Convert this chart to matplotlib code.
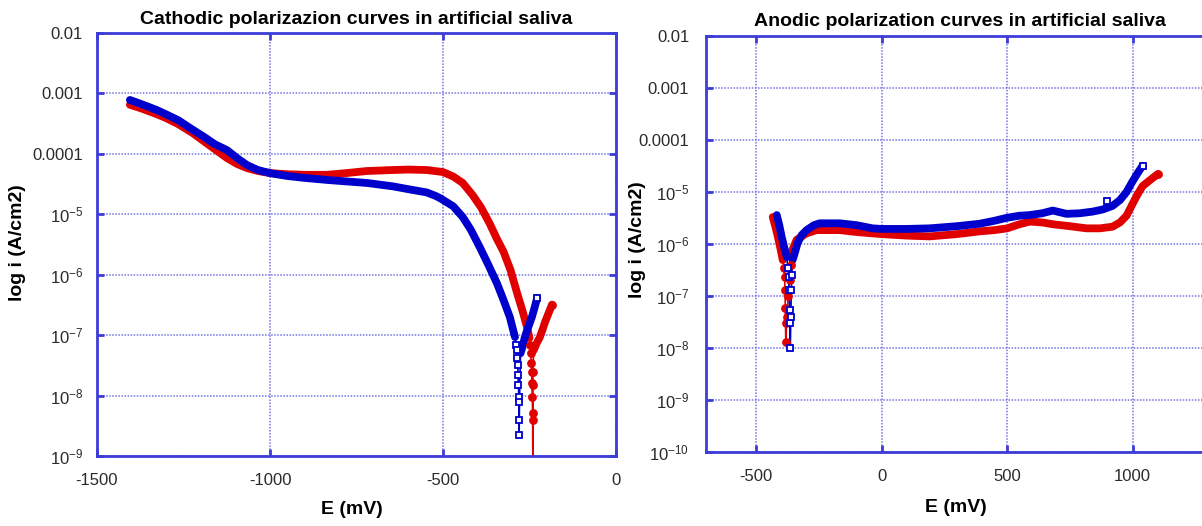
import numpy as np
import matplotlib
matplotlib.use("Agg")
import matplotlib.pyplot as plt
from matplotlib.ticker import FixedLocator, FixedFormatter

plt.rcParams["font.family"] = ["Liberation Sans", "DejaVu Sans"]
plt.rcParams["mathtext.fontset"] = "custom"
plt.rcParams["mathtext.rm"] = "Liberation Sans"
plt.rcParams["mathtext.it"] = "Liberation Sans"

# ---------------- Cathodic scan (mV, A/cm2) ----------------
cat_blue_band_E = [-1405, -1370, -1330, -1300, -1265, -1223, -1190, -1160, -1124, -1095,
                   -1066, -1035, -1000, -950, -900, -835, -780, -720, -645, -600,
                   -547, -520, -505, -470, -443, -420, -393, -370, -344, -325, -307, -292]
cat_blue_band_i = [7.8e-4, 6.6e-4, 5.4e-4, 4.5e-4, 3.6e-4, 2.5e-4, 1.9e-4, 1.45e-4, 1.15e-4, 8.5e-5,
                   6.5e-5, 5.4e-5, 4.8e-5, 4.3e-5, 4.0e-5, 3.7e-5, 3.5e-5, 3.3e-5, 2.9e-5, 2.6e-5,
                   2.3e-5, 2.0e-5, 1.8e-5, 1.35e-5, 9e-6, 5.6e-6, 2.8e-6, 1.5e-6, 7.2e-7, 3.8e-7, 2.0e-7, 9.3e-8]
cat_blue_tail_E = [-289, -287, -285, -284, -283, -282, -281, -280, -280, -279]
cat_blue_tail_i = [7e-8, 5.6e-8, 4.2e-8, 3.2e-8, 2.2e-8, 1.5e-8, 9.3e-9, 3.9e-9, 2.2e-9, 7.7e-9]
cat_blue_rise_E = [-276, -270, -264, -257, -250, -243, -235, -228]
cat_blue_rise_i = [5e-8, 6.5e-8, 9e-8, 1.2e-7, 1.55e-7, 2e-7, 2.9e-7, 4.1e-7]

cat_red_band_E = [-1405, -1370, -1330, -1300, -1265, -1223, -1190, -1160, -1124, -1095,
                  -1066, -1035, -1000, -950, -900, -835, -780, -720, -645, -600,
                  -547, -500, -470, -443, -415, -390, -365, -345, -325, -305, -286, -270, -257, -250]
cat_red_band_i = [6.5e-4, 5.6e-4, 4.6e-4, 3.9e-4, 3.1e-4, 2.2e-4, 1.6e-4, 1.2e-4, 8.5e-5, 6.8e-5,
                  5.8e-5, 5.2e-5, 4.8e-5, 4.6e-5, 4.5e-5, 4.5e-5, 4.8e-5, 5.2e-5, 5.4e-5, 5.5e-5,
                  5.4e-5, 5.0e-5, 4.2e-5, 3.3e-5, 2.1e-5, 1.3e-5, 7e-6, 4e-6, 2.4e-6, 1.2e-6, 5e-7, 2.5e-7, 1.35e-7, 9e-8]
cat_red_tail_E = [-248, -246, -245, -244, -243, -242, -241, -241, -240, -240, -240]
cat_red_tail_i = [7e-8, 5e-8, 3.5e-8, 2.5e-8, 1.6e-8, 9.3e-9, 5.2e-9, 3.9e-9, 4e-10, 1.5e-8, 2.5e-8]
cat_red_rise_E = [-238, -230, -220, -212, -205, -195, -185]
cat_red_rise_i = [5.6e-8, 7.2e-8, 9.3e-8, 1.25e-7, 1.65e-7, 2.3e-7, 3.2e-7]

# ---------------- Anodic scan (mV, A/cm2) ----------------
an_blue_band_E = [-418, -408, -398, -388, -378]
an_blue_band_i = [3.6e-6, 2.3e-6, 1.35e-6, 8.5e-7, 5.6e-7]
an_blue_tail_E = [-374, -371, -369, -367, -366, -364, -362, -360, -358]
an_blue_tail_i = [3.5e-7, 2.3e-7, 1.3e-7, 5.4e-8, 3e-8, 1e-8, 4e-8, 1.3e-7, 2.5e-7]
an_blue_rise_E = [-355, -345, -335, -318, -299, -270, -247, -200, -167, -100, -36, 0, 100, 191,
                  300, 390, 450, 500, 550, 590, 640, 682, 737, 790, 841, 880, 920, 950, 976,
                  1000, 1020, 1040]
an_blue_rise_i = [4.9e-7, 7e-7, 1.05e-6, 1.5e-6, 1.85e-6, 2.3e-6, 2.5e-6, 2.5e-6, 2.5e-6, 2.3e-6,
                  2.0e-6, 1.95e-6, 1.95e-6, 2.0e-6, 2.2e-6, 2.45e-6, 2.8e-6, 3.2e-6, 3.5e-6, 3.6e-6,
                  3.9e-6, 4.4e-6, 3.8e-6, 3.9e-6, 4.2e-6, 4.6e-6, 5.4e-6, 7e-6, 1e-5,
                  1.6e-5, 2.3e-5, 3.2e-5]
an_blue_stray_E = [900]
an_blue_stray_i = [6.8e-6]

an_red_band_E = [-434, -424, -414, -404, -394]
an_red_band_i = [3.3e-6, 2.2e-6, 1.4e-6, 8.5e-7, 4.9e-7]
an_red_tail_E = [-390, -387, -385, -384, -383, -382, -378, -372, -367, -363]
an_red_tail_i = [3.5e-7, 2.3e-7, 1.3e-7, 5.9e-8, 3e-8, 1.3e-8, 4e-8, 1e-7, 2e-7, 4e-7]
an_red_rise_E = [-359, -339, -300, -259, -200, -167, -100, -36, 0, 100, 191, 300, 390, 450,
                 500, 550, 590, 640, 682, 750, 817, 870, 920, 950, 976, 1000, 1020, 1040, 1070, 1100]
an_red_rise_i = [7e-7, 1.2e-6, 1.6e-6, 1.85e-6, 1.85e-6, 1.85e-6, 1.7e-6, 1.6e-6, 1.55e-6, 1.45e-6,
                 1.4e-6, 1.55e-6, 1.75e-6, 1.85e-6, 2.0e-6, 2.4e-6, 2.7e-6, 2.6e-6, 2.4e-6, 2.2e-6,
                 2.0e-6, 2.0e-6, 2.15e-6, 2.6e-6, 3.5e-6, 5.9e-6, 9e-6, 1.3e-5, 1.7e-5, 2.2e-5]

cat_xticks = [-1500, -1000, -500, 0]
an_xticks = [-500, 0, 500, 1000]
cat_decades = [-2, -3, -4, -5, -6, -7, -8, -9]
an_decades = [-2, -3, -4, -5, -6, -7, -8, -9, -10]

RED = "#e00000"
BLUE = "#0000cc"
FRAME = "#3c3cd8"
GRID = "#7474e4"
TICKTXT = "#2a2a2a"


def ylabel_text(d):
    if d >= -4:
        return "0." + "0" * (-d - 1) + "1"
    return r"$10^{%d}$" % d


def draw_curve(ax, band, tail, rise, color, marker, face):
    E_all = list(band[0]) + list(tail[0]) + list(rise[0])
    i_all = list(band[1]) + list(tail[1]) + list(rise[1])
    ax.plot(E_all, i_all, color=color, lw=1.2, zorder=3)
    for E, i in (band, rise):
        ax.plot(E, i, color=color, lw=5.6, solid_capstyle="round",
                solid_joinstyle="round", zorder=3)
    ax.plot(tail[0], tail[1], ls="none", marker=marker, ms=5, mew=1.3,
            mec=color, mfc=face, zorder=4)
    ax.plot([rise[0][-1]], [rise[1][-1]], ls="none", marker=marker, ms=5, mew=1.3,
            mec=color, mfc=face, zorder=4)


def style_axes(ax, xlim, ylim, xticks, decades, xpad, ypad):
    ax.set_yscale("log")
    ax.set_xlim(*xlim)
    ax.set_ylim(*ylim)
    ax.xaxis.set_major_locator(FixedLocator(xticks))
    ax.xaxis.set_major_formatter(FixedFormatter([str(t) for t in xticks]))
    yt = [10.0 ** d for d in decades]
    ax.yaxis.set_major_locator(FixedLocator(yt))
    ax.yaxis.set_major_formatter(FixedFormatter([ylabel_text(d) for d in decades]))
    ax.yaxis.set_minor_locator(FixedLocator([]))
    ax.grid(True, which="major", color=GRID, ls=(0, (1, 1)), lw=1.1, zorder=1)
    for s in ax.spines.values():
        s.set_color(FRAME)
        s.set_linewidth(2)
        s.set_zorder(5)
    ax.tick_params(axis="both", which="major", direction="in", length=5, width=2,
                   color=FRAME, top=True, right=True, labelsize=12, labelcolor=TICKTXT)
    ax.tick_params(axis="x", pad=xpad)
    ax.tick_params(axis="y", pad=ypad)


fig = plt.figure(figsize=(12.02, 5.26), dpi=100)
W, H = 1202.0, 526.0

ax1 = fig.add_axes([97 / W, 1 - 456 / H, 519 / W, 423 / H])
draw_curve(ax1, (cat_red_band_E, cat_red_band_i), (cat_red_tail_E, cat_red_tail_i),
           (cat_red_rise_E, cat_red_rise_i), RED, "o", RED)
draw_curve(ax1, (cat_blue_band_E, cat_blue_band_i), (cat_blue_tail_E, cat_blue_tail_i),
           (cat_blue_rise_E, cat_blue_rise_i), BLUE, "s", "white")
style_axes(ax1, (-1500, 0), (1e-9, 1e-2), cat_xticks, cat_decades, 12, 10)

# the anodic frame runs on past the right edge of the canvas
ax2 = fig.add_axes([706 / W, 1 - 452 / H, 552 / W, 416 / H])
draw_curve(ax2, (an_red_band_E, an_red_band_i), (an_red_tail_E, an_red_tail_i),
           (an_red_rise_E, an_red_rise_i), RED, "o", RED)
draw_curve(ax2, (an_blue_band_E, an_blue_band_i), (an_blue_tail_E, an_blue_tail_i),
           (an_blue_rise_E, an_blue_rise_i), BLUE, "s", "white")
ax2.plot(an_blue_stray_E, an_blue_stray_i, ls="none", marker="s", ms=5, mew=1.3,
         mec=BLUE, mfc="white", zorder=4)
style_axes(ax2, (-700, 1500), (1e-10, 1e-2), an_xticks, an_decades, 12, 12)
ax2.xaxis.set_minor_locator(FixedLocator([1500]))
ax2.grid(True, which="minor", axis="x", color=GRID, ls=(0, (1, 1)), lw=1.1, zorder=1)

fig.text(356 / W, 1 - 19 / H, "Cathodic polarizazion curves in artificial saliva",
         ha="center", va="center", fontsize=14, fontweight="bold")
fig.text(960 / W, 1 - 21 / H, "Anodic polarization curves in artificial saliva",
         ha="center", va="center", fontsize=14, fontweight="bold")
fig.text(18 / W, 1 - 243 / H, "log i (A/cm2)", rotation=90, ha="center", va="center",
         fontsize=14, fontweight="bold")
fig.text(638 / W, 1 - 240 / H, "log i (A/cm2)", rotation=90, ha="center", va="center",
         fontsize=14, fontweight="bold")
fig.text(352 / W, 1 - 510 / H, "E (mV)", ha="center", va="center",
         fontsize=14, fontweight="bold")
fig.text(956 / W, 1 - 507 / H, "E (mV)", ha="center", va="center",
         fontsize=14, fontweight="bold")

fig.savefig("out.png", dpi=100, facecolor="white")
